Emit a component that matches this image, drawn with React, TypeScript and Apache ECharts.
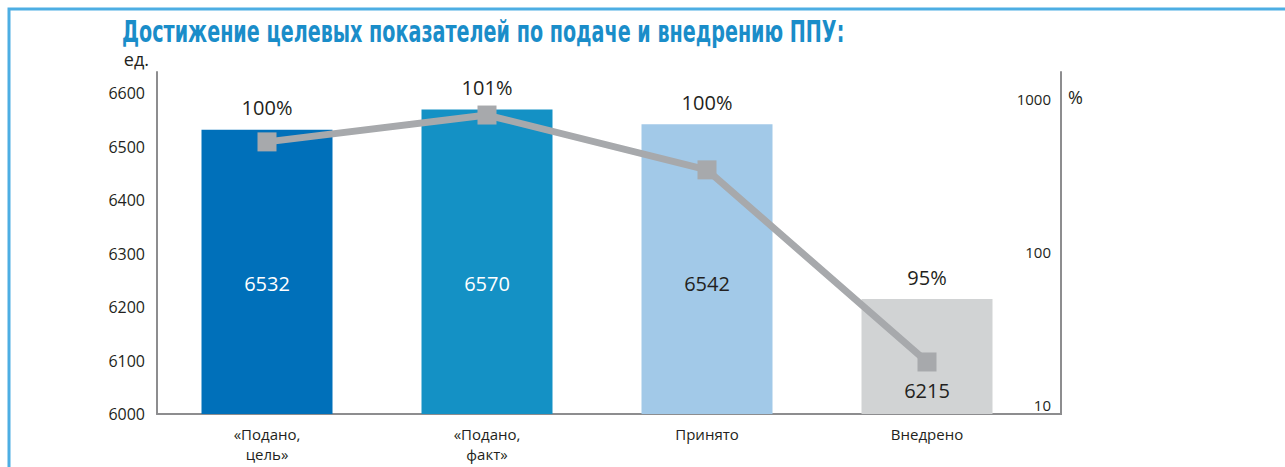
import React, { useEffect, useRef } from "react";
import * as echarts from "echarts";

const categories = ["«Подано,\nцель»", "«Подано,\nфакт»", "Принято", "Внедрено"];
const barValues = [6532, 6570, 6542, 6215];
const percentLabels = ["100%", "101%", "100%", "95%"];
const lineValues = [524, 785, 344, 19.1];
const barColors = ["#0070ba", "#1491c5", "#a2c9e8", "#d1d3d4"];
const valueLabelColors = ["#ffffff", "#ffffff", "#231f20", "#231f20"];
const leftTicks = { min: 6000, max: 6640, interval: 100 };
const rightTicks = { min: 8.73, max: 1500 };
const title = "Достижение целевых показателей по подаче и внедрению ППУ:";

const FONT = '"Open Sans", "Noto Sans", sans-serif';

export default function App() {
  const ref = useRef<HTMLDivElement>(null);
  useEffect(() => {
    if (!ref.current) return;
    const chart = echarts.init(ref.current, null, { renderer: "svg" });
    const n = barValues.length;
    chart.setOption({
      animation: false,
      backgroundColor: "#ffffff",
      textStyle: { fontFamily: FONT },
      grid: { left: 157, right: 248, top: 72, bottom: 53, containLabel: false },
      xAxis: {
        type: "category",
        data: categories,
        axisLine: { lineStyle: { color: "#8d8d8f", width: 2 } },
        axisTick: { show: false },
        axisLabel: { color: "#231f20", fontSize: 15, fontFamily: FONT, lineHeight: 20, margin: 10 },
      },
      yAxis: [
        {
          type: "value",
          min: leftTicks.min,
          max: leftTicks.max,
          interval: leftTicks.interval,
          name: "ед.",
          nameLocation: "end",
          nameGap: 4,
          nameTextStyle: { color: "#231f20", fontSize: 18, fontFamily: FONT, align: "right", padding: [0, 8, 0, 0] },
          axisLine: { show: true, lineStyle: { color: "#8d8d8f", width: 2 } },
          axisTick: { show: false },
          splitLine: { show: false },
          axisLabel: {
            color: "#231f20",
            fontSize: 16,
            fontFamily: FONT,
            margin: 12,
            showMaxLabel: false,
            formatter: (v: number) => String(v),
          },
        },
        {
          type: "log",
          logBase: 10,
          min: rightTicks.min,
          max: rightTicks.max,
          position: "right",
          offset: 24,
          axisLine: { show: true, lineStyle: { color: "#8d8d8f", width: 2 } },
          axisTick: { show: false },
          splitLine: { show: false },
          axisLabel: {
            inside: true,
            color: "#231f20",
            fontSize: 15,
            fontFamily: FONT,
            margin: 10,
            showMaxLabel: false,
            showMinLabel: false,
            formatter: (v: number) => String(Math.round(v)),
          },
        },
      ],
      series: [
        {
          type: "bar",
          barWidth: 131,
          data: barValues.map((v, i) => ({
            value: v,
            itemStyle: { color: barColors[i] },
            label: {
              show: true,
              position: "insideBottom",
              distance: i === n - 1 ? 14 : 121,
              color: valueLabelColors[i],
              fontSize: 20,
              fontFamily: FONT,
            },
          })),
          z: 1,
        },
        {
          type: "bar",
          barWidth: 131,
          barGap: "-100%",
          data: barValues.map((v, i) => ({
            value: v,
            itemStyle: { color: "rgba(0,0,0,0)" },
            label: {
              show: true,
              position: "top",
              distance: 12,
              formatter: percentLabels[i],
              color: "#231f20",
              fontSize: 20,
              fontFamily: FONT,
            },
          })),
          z: 2,
        },
        {
          type: "line",
          yAxisIndex: 1,
          data: lineValues,
          symbol: "rect",
          symbolSize: 19,
          lineStyle: { color: "#a7a9ac", width: 7 },
          itemStyle: { color: "#a7a9ac" },
          z: 5,
        },
      ],
      graphic: [
        {
          type: "rect",
          shape: { x: 9, y: 9, width: 1400, height: 600 },
          style: { fill: "none", stroke: "#4daee3", lineWidth: 3 },
          silent: true,
        },
        {
          type: "text",
          x: 122,
          y: 17,
          scaleX: 0.71,
          style: {
            text: title,
            font: 'bold 30px "Liberation Sans Narrow", "DejaVu Sans Condensed", sans-serif',
            fill: "#1a8dc9",
            textVerticalAlign: "top",
          },
        },
        {
          type: "line",
          shape: { x1: 1036, y1: 414, x2: 1062, y2: 414 },
          style: { stroke: "#8d8d8f", lineWidth: 2 },
        },
        {
          type: "text",
          x: 1068,
          y: 97,
          style: {
            text: "%",
            font: '18px "Open Sans", sans-serif',
            fill: "#231f20",
            textVerticalAlign: "middle",
          },
        },
      ],
    });
    return () => chart.dispose();
  }, []);
  return <div ref={ref} style={{ position: "fixed", left: 0, top: 0, width: 1285, height: 467 }} />;
}
